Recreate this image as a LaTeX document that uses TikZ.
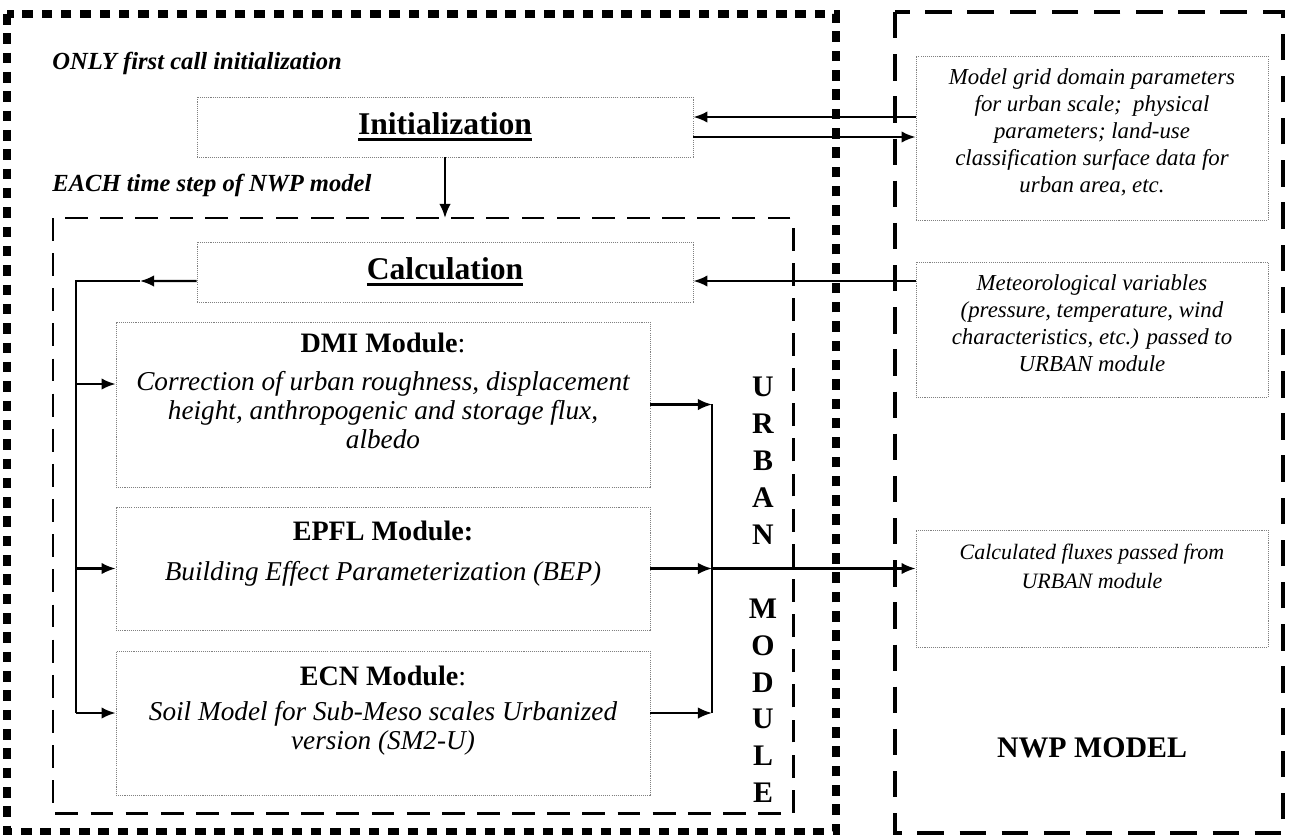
\documentclass[tikz,border=0pt]{standalone}
\usepackage{fontspec}
\setmainfont{Liberation Serif}
\usepackage{tikz}
\usetikzlibrary{arrows.meta}
\newcommand{\boxgrey}{black!50}
\newcommand{\heavyul}[1]{\setbox0=\hbox{#1}\rlap{\rule[-3.5pt]{\wd0}{1.6pt}}\box0}

\begin{document}
\begin{tikzpicture}[x=0.02cm,y=-0.02cm,>={Latex[length=8pt,width=6.5pt]}]
    \tikzstyle{modbox}=[draw=\boxgrey,line width=0.5pt,dash pattern=on 0.6pt off 0.6pt,inner sep=0pt]
    \tikzstyle{modtitle}=[font=\fontsize{16}{19}\selectfont\bfseries,anchor=base,inner sep=0pt]
    \tikzstyle{modtext}=[font=\fontsize{15.5}{16.5}\selectfont\itshape,align=center,anchor=north,inner sep=0pt]
    \tikzstyle{nwptext}=[font=\fontsize{13}{15.4}\selectfont\itshape,align=center,anchor=north,inner sep=0pt]
    \tikzstyle{phase}=[font=\fontsize{14}{16}\selectfont\bfseries\itshape,anchor=west,inner sep=0pt]
    \tikzstyle{flow}=[->,line width=1.2pt]
    \tikzstyle{wire}=[line width=1.2pt]
    \useasboundingbox (0,0) rectangle (1291,839);

    % frames
    \draw[line width=4pt,dash pattern=on 6pt off 5pt] (7,14) rectangle (836,831);
    \draw[line width=2.8pt,dash pattern=on 15pt off 9pt] (895,12) rectangle (1283,833);
    \draw[line width=1.7pt,dash pattern=on 13pt off 7pt] (53,218) rectangle (793,813);
    \node[phase] (first) at (52,63) {ONLY first call initialization};
    \node[phase] (each) at (52,185) {EACH time step of NWP model};

    % urban module
    \node[modbox,minimum width=9.92cm,minimum height=1.2cm,font=\fontsize{18}{21}\selectfont\bfseries] (init) at (445,127) {\heavyul{Initialization}};
    \node[modbox,minimum width=9.92cm,minimum height=1.2cm,font=\fontsize{18}{21}\selectfont\bfseries] (calc) at (445,272) {\heavyul{Calculation}};
    \node[modbox,minimum width=10.68cm,minimum height=3.3cm] (dmi) at (383,404.5) {};
    \node[modtitle] (dmititle) at (383,352) {DMI Module{\mdseries:}};
    \node[modtext] (dmitext) at (383,371) {Correction of urban roughness, displacement\\height, anthropogenic and storage flux,\\albedo};
    \node[modbox,minimum width=10.68cm,minimum height=2.46cm] (epfl) at (383,568.5) {};
    \node[modtitle] (epfltitle) at (383,540) {EPFL Module:};
    \node[modtext] (epfltext) at (383,561) {Building Effect Parameterization (BEP)};
    \node[modbox,minimum width=10.68cm,minimum height=2.88cm] (ecn) at (383,723) {};
    \node[modtitle] (ecntitle) at (383,685) {ECN Module{\mdseries:}};
    \node[modtext] (ecntext) at (383,701) {Soil Model for Sub-Meso scales Urbanized\\version (SM2-U)};
    \node[font=\fontsize{17}{21}\selectfont\bfseries,align=center,anchor=north,inner sep=0pt] (urban) at (763,377) {U\\R\\B\\A\\N\\[21pt]M\\O\\D\\U\\L\\E};

    % nwp model
    \node[modbox,minimum width=7.04cm,minimum height=3.28cm] (grid) at (1092,138) {};
    \node[nwptext] (gridtext) at (1092,68) {Model grid domain parameters\\for urban scale;~ physical\\parameters; land-use\\classification surface data for\\urban area, etc.};
    \node[modbox,minimum width=7.04cm,minimum height=2.7cm] (met) at (1092,329.5) {};
    \node[nwptext] (mettext) at (1092,274) {Meteorological variables\\(pressure, temperature, wind\\characteristics, etc.) passed to\\URBAN module};
    \node[modbox,minimum width=7.04cm,minimum height=2.34cm] (flux) at (1092,588.5) {};
    \node[nwptext,font=\fontsize{12.5}{16.5}\selectfont\itshape] (fluxtext) at (1092,544) {Calculated fluxes passed from\\URBAN module};
    \node[font=\fontsize{17}{20}\selectfont\bfseries] (nwp) at (1092,748) {NWP MODEL};

    % connectors
    \coordinate (urbantop) at (445,218);
    \coordinate (lbtop) at (76,281);
    \coordinate (lbbot) at (76,713);
    \coordinate (lbtip) at (140,281);
    \coordinate (rbtop) at (712,404);
    \coordinate (rbbot) at (712,713);
    \draw[flow] ([yshift=0.2cm]init.east -| grid.west) -- ([yshift=0.2cm]init.east);
    \draw[flow] ([yshift=-0.2cm]init.east) -- ([yshift=-0.2cm]init.east -| grid.west);
    \draw[flow] (init.south) -- (init.south |- urbantop);
    \draw[flow] ([yshift=-0.18cm]calc.east -| met.west) -- ([yshift=-0.18cm]calc.east);
    \draw[flow] ([yshift=-0.18cm]calc.west) -- (lbtip);
    \draw[wire] (lbtip) -- (lbtop) -- (lbbot);
    \draw[flow] ([yshift=0.41cm]dmi.west -| lbtop) -- ([yshift=0.41cm]dmi.west);
    \draw[flow] (epfl.west -| lbtop) -- (epfl.west);
    \draw[flow] ([yshift=0.2cm]ecn.west -| lbtop) -- ([yshift=0.2cm]ecn.west);
    \draw[wire] (rbtop) -- (rbbot);
    \draw[flow] (dmi.east) -- (dmi.east -| rbtop);
    \draw[flow] (epfl.east) -- (epfl.east -| rbtop);
    \draw[flow] ([yshift=0.2cm]ecn.east) -- ([yshift=0.2cm]ecn.east -| rbtop);
    \draw[flow] (epfl.east -| rbtop) -- (epfl.east -| flux.west);
\end{tikzpicture}
\end{document}
